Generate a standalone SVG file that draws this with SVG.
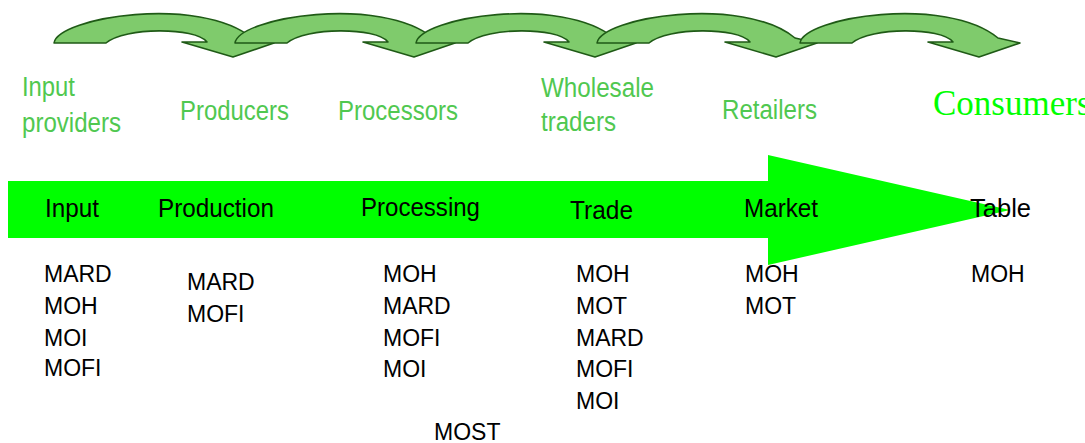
<svg xmlns="http://www.w3.org/2000/svg" width="1085" height="443" viewBox="0 0 1085 443">
  <style>
    .actor { font-family: "Liberation Sans Narrow", "Liberation Sans", Arial, sans-serif; font-size: 27px; fill: #50C850; }
    .consumer { font-family: "Liberation Serif", "Times New Roman", serif; font-size: 35px; fill: #00FF00; }
    .stage { font-family: "Liberation Sans Narrow", "Liberation Sans", Arial, sans-serif; font-size: 25px; fill: #000; }
    .agency { font-family: "Liberation Sans Narrow", "Liberation Sans", Arial, sans-serif; font-size: 23px; fill: #000; }
    .hop { fill: #7FCB6C; stroke: #1F5A16; stroke-width: 1.6; stroke-linejoin: round; }
  </style>
  <defs>
    <!-- curved "hand-over" arrow between two actors -->
    <path id="hop" class="hop" d="M 54 43 C 58 17 200 -5 252 38 L 274 43 L 233 57 L 182 42 L 207 42 C 195 27 125 27 106 43 Z"/>
  </defs>

  <rect width="1085" height="443" fill="#fff"/>

  <!-- curved arrows linking the actors -->
  <g id="connectors">
    <use href="#hop"/>
    <use href="#hop" transform="translate(181,0)"/>
    <use href="#hop" transform="translate(362,0)"/>
    <use href="#hop" transform="translate(543,0)"/>
    <use href="#hop" transform="translate(746,0)"/>
  </g>

  <!-- value-chain arrow -->
  <path id="chain-arrow" d="M 8 181 L 768 181 L 768 155 L 1010 210 L 768 265 L 768 238 L 8 238 Z" fill="#00FF00"/>

  <g id="input">
    <text class="actor" x="22" y="96" textLength="53" lengthAdjust="spacingAndGlyphs">Input</text>
    <text class="actor" x="22" y="132" textLength="99" lengthAdjust="spacingAndGlyphs">providers</text>
    <text class="stage" x="45" y="217" textLength="54" lengthAdjust="spacingAndGlyphs">Input</text>
    <text class="agency" x="44" y="282">MARD</text>
    <text class="agency" x="44" y="314">MOH</text>
    <text class="agency" x="44" y="346">MOI</text>
    <text class="agency" x="44" y="376">MOFI</text>
  </g>

  <g id="production">
    <text class="actor" x="180" y="120" textLength="109" lengthAdjust="spacingAndGlyphs">Producers</text>
    <text class="stage" x="158" y="217" textLength="116" lengthAdjust="spacingAndGlyphs">Production</text>
    <text class="agency" x="187" y="290">MARD</text>
    <text class="agency" x="187" y="322">MOFI</text>
  </g>

  <g id="processing">
    <text class="actor" x="338" y="120" textLength="120" lengthAdjust="spacingAndGlyphs">Processors</text>
    <text class="stage" x="361" y="216" textLength="119" lengthAdjust="spacingAndGlyphs">Processing</text>
    <text class="agency" x="383" y="282">MOH</text>
    <text class="agency" x="383" y="313.5">MARD</text>
    <text class="agency" x="383" y="345.5">MOFI</text>
    <text class="agency" x="383" y="377">MOI</text>
    <text class="agency" x="434" y="440">MOST</text>
  </g>

  <g id="trade">
    <text class="actor" x="541" y="97" textLength="113" lengthAdjust="spacingAndGlyphs">Wholesale</text>
    <text class="actor" x="541" y="131" textLength="75" lengthAdjust="spacingAndGlyphs">traders</text>
    <text class="stage" x="570" y="219" textLength="63" lengthAdjust="spacingAndGlyphs">Trade</text>
    <text class="agency" x="576" y="282">MOH</text>
    <text class="agency" x="576" y="313.5">MOT</text>
    <text class="agency" x="576" y="345.5">MARD</text>
    <text class="agency" x="576" y="377">MOFI</text>
    <text class="agency" x="576" y="408.5">MOI</text>
  </g>

  <g id="market">
    <text class="actor" x="722" y="119" textLength="95" lengthAdjust="spacingAndGlyphs">Retailers</text>
    <text class="stage" x="744" y="217" textLength="74" lengthAdjust="spacingAndGlyphs">Market</text>
    <text class="agency" x="745" y="282">MOH</text>
    <text class="agency" x="745" y="313.5">MOT</text>
  </g>

  <g id="table">
    <text class="consumer" x="933" y="115">Consumers</text>
    <text class="stage" x="970" y="217" textLength="61" lengthAdjust="spacingAndGlyphs">Table</text>
    <text class="agency" x="971" y="282">MOH</text>
  </g>
</svg>
